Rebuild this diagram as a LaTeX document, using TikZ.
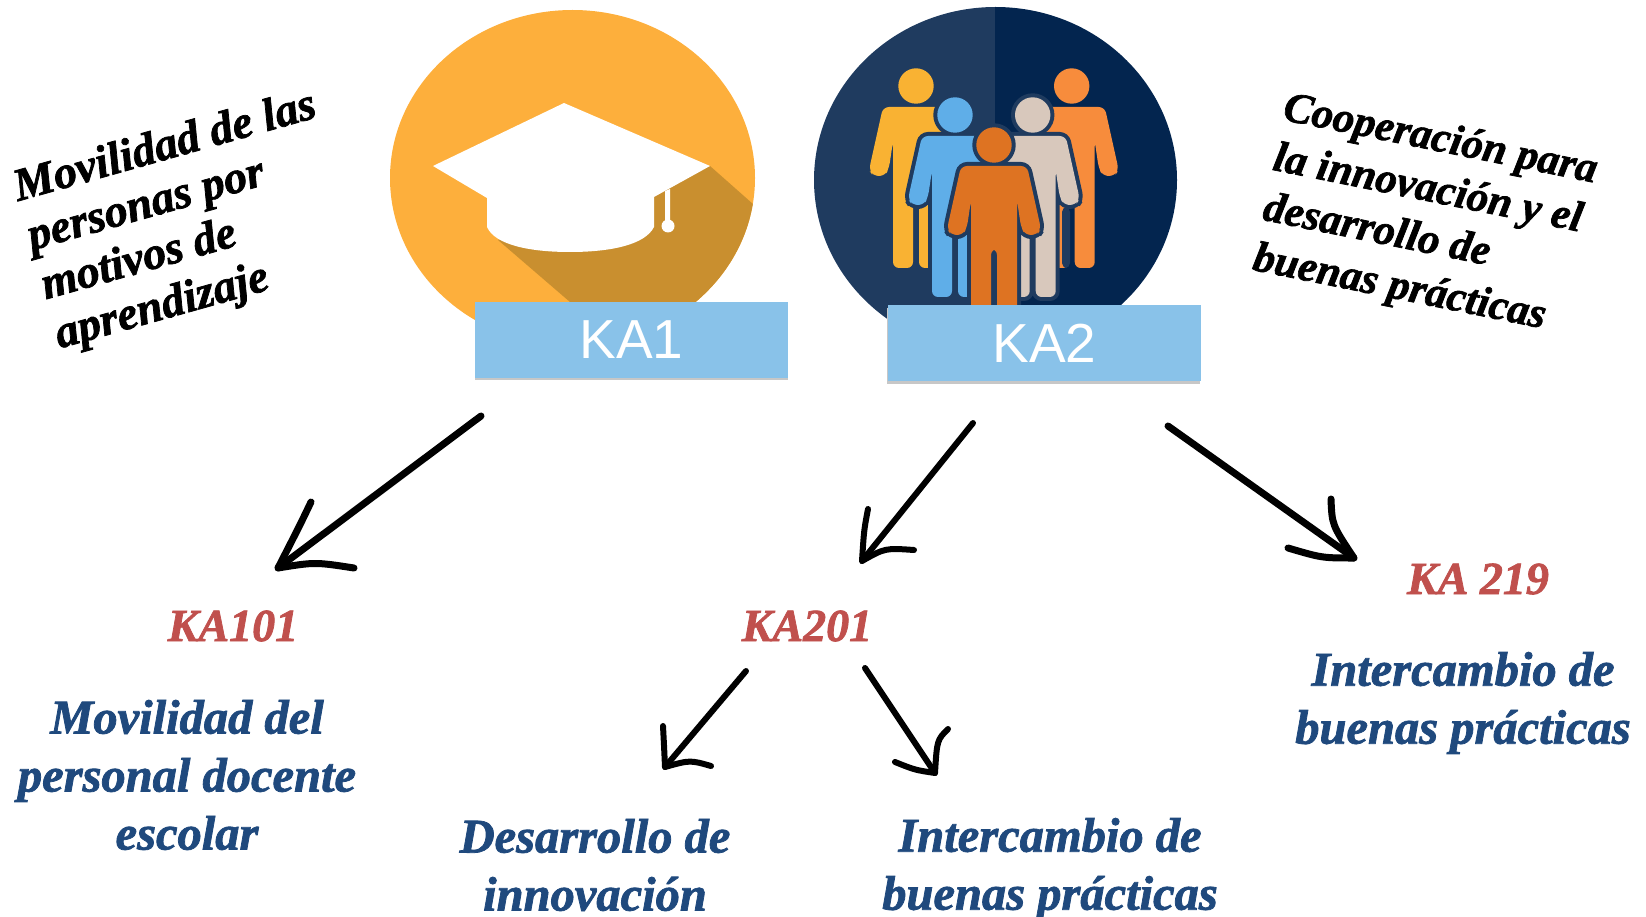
\documentclass[tikz,border=0pt]{standalone}
\usepackage{fontspec}
\setmainfont{Liberation Sans}
\newfontfamily\handfont{Liberation Serif}[BoldItalicFeatures={FakeBold=1.6}]
\definecolor{capor}{HTML}{FDAF3C}
\definecolor{capsh}{HTML}{C98F2F}
\definecolor{navyl}{HTML}{1F3B5F}
\definecolor{navyd}{HTML}{03254F}
\definecolor{boxblue}{HTML}{89C2E9}
\definecolor{redlab}{HTML}{C0504D}
\definecolor{bluetxt}{HTML}{1F497D}
\definecolor{pyellow}{HTML}{F9B233}
\definecolor{porange}{HTML}{F78C3C}
\definecolor{pblue}{HTML}{5FAEE8}
\definecolor{pbeige}{HTML}{D8C8BC}
\definecolor{pcentral}{HTML}{DE7322}
\newcommand{\bodyshape}{(-33,21) -- (-47,84) -- (-43,90) -- (-31,90) -- (-27,82) -- (-23,55) -- (-23,182) -- (-3,182) -- (-3,104) -- (3,104) -- (3,182) -- (23,182) -- (23,55) -- (27,82) -- (31,90) -- (43,90) -- (47,84) -- (33,21) -- cycle}
\newcommand{\personplain}[3]{\begin{scope}[shift={(#1,#2)}]
  \fill[#3,rounded corners=6pt] \bodyshape;
  \fill[#3] (0,0) circle[radius=17.7];
\end{scope}}
\newcommand{\personlined}[3]{\begin{scope}[shift={(#1,#2)}]
  \path[draw=navyl,fill=navyl,line width=8pt,rounded corners=6pt] \bodyshape;
  \path[draw=navyl,fill=navyl,line width=8pt] (0,0) circle[radius=17.7];
  \fill[#3,rounded corners=6pt] \bodyshape;
  \fill[#3] (0,0) circle[radius=17.7];
\end{scope}}
\tikzset{
  keybox/.style={fill=boxblue,minimum width=313pt,minimum height=76pt,inner sep=0pt,text=white,font=\fontsize{55}{60}\selectfont},
  boxshadow/.style={fill=black!22},
  sloganl/.style={font=\handfont\bfseries\itshape\fontsize{46}{51}\selectfont,align=left,inner sep=0pt,text=black},
  sloganr/.style={font=\handfont\bfseries\itshape\fontsize{43}{51}\selectfont,align=left,inner sep=0pt,text=black},
  codelabel/.style={font=\handfont\bfseries\itshape\fontsize{46}{50}\selectfont,text=redlab,inner sep=0pt},
  desc/.style={font=\handfont\bfseries\itshape\fontsize{48.5}{58}\selectfont,text=bluetxt,align=center,inner sep=0pt},
  shaft/.style={draw=black,line cap=round,line join=round,line width=7pt},
  barb/.style={draw=black,line cap=round,line join=round,line width=6pt}
}
\begin{document}
\begin{tikzpicture}[x=1pt,y=-1pt]
\useasboundingbox (0,0) rectangle (1646,917);
% KA1 emblem
\fill[capor] (572.5,178) ellipse[x radius=182.5,y radius=168];
\begin{scope}
  \clip (572.5,178) ellipse[x radius=182.5,y radius=168];
  \fill[capsh] (710,166) -- (762,212) -- (762,340) -- (640,380) -- (570,302) -- (498,240) -- cycle;
\end{scope}
\fill[white] (564,103) -- (710,166) -- (654,197) -- (654,227) .. controls (645,245) and (610,252) .. (570,252) .. controls (530,252) and (495,245) .. (487,227) -- (487,198) -- (433,166) -- cycle;
\fill[white] (665,191) -- (670,189) -- (670,222) -- (665,222) -- cycle;
\fill[white] (668,226) circle[radius=6.5];
% KA2 emblem
\begin{scope}
  \clip (995.5,180) ellipse[x radius=181.5,y radius=173];
  \fill[navyl] (810,0) rectangle (995,360);
  \fill[navyd] (995,0) rectangle (1180,360);
\end{scope}
\personplain{916}{86}{pyellow}
\personplain{1071.7}{86}{porange}
\fill[navyl,rounded corners=5pt] (1062,207) -- (1070,207) -- (1070,268) -- (1062,268) -- cycle;
\personlined{955}{115}{pblue}
\personlined{1032.7}{115}{pbeige}
\personlined{994}{145}{pcentral}
% Boxes
\fill[boxshadow] (475,304) rectangle (788,380);
\fill[boxshadow] (887,308) rectangle (1200,384);
\node[keybox] (ka1) at (631.5,340) {\raisebox{0pt}{KA1}};
\node[keybox] (ka2) at (1044.5,343) {\raisebox{0pt}{KA2}};
% Slogans
\node[sloganl,rotate=15.7] (left) at (186,222) {Movilidad de las\\personas por\\motivos de\\aprendizaje};
\node[sloganr,rotate=-11.4] (right) at (1425,216) {Cooperación para\\la innovación y el\\desarrollo de\\buenas prácticas};
% Labels
\node[codelabel] (k101) at (233,626) {KA101};
\node[codelabel] (k201) at (807,626) {KA201};
\node[codelabel] (k219) at (1478,579) {KA 219};
\node[desc] (d101) at (187,775) {Movilidad del\\personal docente\\escolar};
\node[desc] (dinn) at (595,865) {Desarrollo de\\innovación};
\node[desc] (dint) at (1050,869) {Intercambio de\\buenas prácticas};
\node[desc] (d219) at (1463,703) {Intercambio de\\buenas prácticas};
% Arrow ends
\coordinate (a1s) at (481,416); \coordinate (a1t) at (278,568); \coordinate (a1b) at (311,502); \coordinate (a1c) at (354,568);
\coordinate (a2s) at (973,423); \coordinate (a2t) at (862,561); \coordinate (a2b) at (868,509); \coordinate (a2c) at (914,550);
\coordinate (a3s) at (1168,426); \coordinate (a3t) at (1354,558); \coordinate (a3b) at (1331,499); \coordinate (a3c) at (1288,548);
\coordinate (a4s) at (746,671); \coordinate (a4t) at (665,767); \coordinate (a4b) at (663,726); \coordinate (a4c) at (711,766);
\coordinate (a5s) at (865,668); \coordinate (a5t) at (935,773); \coordinate (a5b) at (948,729); \coordinate (a5c) at (895,762);
% Arrows
\draw[shaft] (a1s) -- (a1t);
\draw[barb,line width=7pt] (a1b) .. controls (300,525) .. (a1t) .. controls (315,562) .. (a1c);
\draw[shaft,line width=6pt] (a2s) -- (a2t);
\draw[barb] (a2b) .. controls (864,530) .. (a2t) .. controls (885,548) .. (a2c);
\draw[shaft] (a3s) -- (a3t);
\draw[barb,line width=7pt] (a3b) .. controls (1332,525) .. (a3t) .. controls (1322,558) .. (a3c);
\draw[shaft,line width=6pt] (a4s) -- (a4t);
\draw[barb] (a4b) .. controls (664,745) .. (a4t) .. controls (690,760) .. (a4c);
\draw[shaft,line width=6pt] (a5s) -- (a5t);
\draw[barb] (a5b) .. controls (937,740) .. (a5t) .. controls (915,770) .. (a5c);
\end{tikzpicture}
\end{document}
